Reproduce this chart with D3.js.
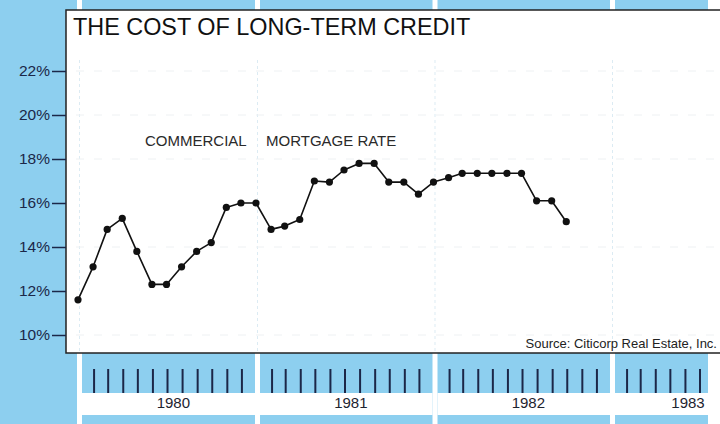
<!DOCTYPE html>
<html>
<head>
<meta charset="utf-8">
<script src="https://cdn.jsdelivr.net/npm/d3@7"></script>
<style>
  html, body { margin: 0; padding: 0; background: #fff; }
  svg { display: block; font-family: "Liberation Sans", Arial, Helvetica, sans-serif; }
</style>
</head>
<body>
<svg id="chart" width="720" height="424"></svg>
<script>
// monthly commercial mortgage rate, Jan 1980 – Oct 1982
const months = [
  "1980-01", "1980-02", "1980-03", "1980-04", "1980-05", "1980-06",
  "1980-07", "1980-08", "1980-09", "1980-10", "1980-11", "1980-12",
  "1981-01", "1981-02", "1981-03", "1981-04", "1981-05", "1981-06",
  "1981-07", "1981-08", "1981-09", "1981-10", "1981-11", "1981-12",
  "1982-01", "1982-02", "1982-03", "1982-04", "1982-05", "1982-06",
  "1982-07", "1982-08", "1982-09", "1982-10"
];
const rates = [
  11.6, 13.1, 14.8, 15.3, 13.8, 12.3, 12.3, 13.1, 13.8, 14.2, 15.8, 16.0,
  16.0, 14.8, 14.95, 15.25, 17.0, 16.95, 17.5, 17.8, 17.8, 16.95, 16.95, 16.4,
  16.95, 17.15, 17.35, 17.35, 17.35, 17.35, 17.35, 16.1, 16.1, 15.15
];
const years  = [1980, 1981, 1982, 1983];
const yTicks = [10, 12, 14, 16, 18, 20, 22];

const W = 720, H = 424;
const BLUE = "#8dcfef", INK = "#1b2748";
const PANEL = { x: 66, y: 10, bottom: 353 };
const BLUE_END = 708;

const parse = d3.timeParse("%Y-%m");
const series = months.map((m, i) => ({ date: parse(m), value: rates[i] }));

const x = d3.scaleTime()
  .domain([new Date(1980, 0, 1), new Date(1983, 0, 1)])
  .range([78, 611]);
const y = d3.scaleLinear().domain([10, 22]).range([335, 71]);

const svg = d3.select("#chart");

// ── Blue backdrop with white year separators ────────────────────
svg.append("rect").attr("width", BLUE_END).attr("height", H).attr("fill", BLUE);

years.forEach(yr => {
  const x0 = x(new Date(yr, 0, 1));
  const x1 = Math.min(x(new Date(yr + 1, 0, 1)) - 1, BLUE_END);
  svg.append("rect")
    .attr("x", x0 - 1).attr("y", 0).attr("width", 5).attr("height", H)
    .attr("fill", "#fff");
  // label box
  svg.append("rect")
    .attr("x", x0 + 4).attr("y", 393).attr("width", x1 - x0 - 4).attr("height", 22)
    .attr("fill", "#fff");
});

// month ticks in the strip under the chart
const monthTicks = d3.timeMonth.range(new Date(1980, 0, 1), new Date(1983, 11, 1))
  .filter(d => d.getMonth() !== 0 && x(d) < BLUE_END - 3);
svg.append("g").selectAll("line").data(monthTicks).join("line")
  .attr("x1", d => x(d) + 1).attr("x2", d => x(d) + 1)
  .attr("y1", 369).attr("y2", 393)
  .attr("stroke", INK).attr("stroke-width", 2);

svg.append("g").selectAll("text").data(years).join("text")
  .attr("x", d => Math.min(x(new Date(d, 6, 15)), 688))
  .attr("y", 408)
  .attr("text-anchor", "middle")
  .attr("fill", "#1e2430").attr("font-size", 15)
  .text(d => d);

// ── Panel ───────────────────────────────────────────────────────
svg.append("rect")
  .attr("x", PANEL.x).attr("y", PANEL.y)
  .attr("width", W - PANEL.x + 10).attr("height", PANEL.bottom - PANEL.y)
  .attr("fill", "#fff").attr("stroke", "#222").attr("stroke-width", 1.5);

// faint guide lines
svg.append("g").selectAll("line").data(years).join("line")
  .attr("x1", d => x(new Date(d, 0, 1)) + 1.5).attr("x2", d => x(new Date(d, 0, 1)) + 1.5)
  .attr("y1", 60).attr("y2", PANEL.bottom - 2)
  .attr("stroke", "#dcebf3").attr("stroke-width", 1).attr("stroke-dasharray", "3,3");
svg.append("g").selectAll("line").data(yTicks.filter(v => v !== 16 && v !== 12)).join("line")
  .attr("x1", PANEL.x + 10).attr("x2", W)
  .attr("y1", d => y(d)).attr("y2", d => y(d))
  .attr("stroke", "#eef1f3").attr("stroke-width", 1).attr("stroke-dasharray", "8,10");

svg.append("text")
  .attr("x", 73).attr("y", 35)
  .attr("fill", "#111").attr("font-size", 23.4)
  .text("THE COST OF LONG-TERM CREDIT");

// ── Y axis ──────────────────────────────────────────────────────
const yAxis = svg.append("g")
  .attr("transform", `translate(${PANEL.x},0)`)
  .call(d3.axisLeft(y).tickValues(yTicks).tickSize(14).tickPadding(2).tickFormat(d => d + "%"));
yAxis.select(".domain").remove();
yAxis.selectAll("line").attr("stroke", INK).attr("stroke-width", 1.5);
yAxis.selectAll("text")
  .attr("fill", INK).attr("font-size", 15.5)
  .attr("font-family", "'Liberation Sans', Arial, sans-serif");

// ── Annotation ──────────────────────────────────────────────────
svg.append("text")
  .attr("x", 145).attr("y", 146)
  .attr("fill", "#2a2a2a").attr("font-size", 15)
  .text("COMMERCIAL");
svg.append("text")
  .attr("x", 266).attr("y", 146)
  .attr("fill", "#2a2a2a").attr("font-size", 15)
  .text("MORTGAGE RATE");

// ── Series ──────────────────────────────────────────────────────
const line = d3.line().x(d => x(d.date)).y(d => y(d.value));
svg.append("path")
  .datum(series)
  .attr("d", line)
  .attr("fill", "none").attr("stroke", "#111").attr("stroke-width", 1.6)
  .attr("stroke-linejoin", "round");

svg.append("g").selectAll("circle").data(series).join("circle")
  .attr("cx", d => x(d.date)).attr("cy", d => y(d.value))
  .attr("r", 3.6).attr("fill", "#111");

svg.append("text")
  .attr("x", 717).attr("y", 348)
  .attr("text-anchor", "end")
  .attr("fill", "#222").attr("font-size", 13)
  .text("Source: Citicorp Real Estate, Inc.");
</script>
</body>
</html>
